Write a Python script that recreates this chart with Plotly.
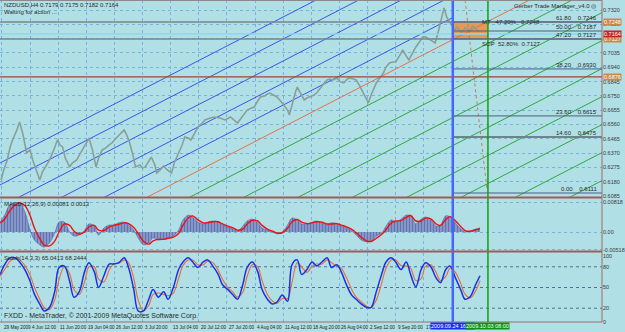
import plotly.graph_objects as go

# ------------------------------------------------------------------ data
tick_bars = [0, 32, 64, 96, 128, 160, 192, 224, 256, 288, 320, 352, 384, 416, 448, 480]
tick_labels = ["29 May 2009", "4 Jun 12:00", "11 Jun 20:00", "19 Jun 04:00", "26 Jun 12:00",
               "3 Jul 20:00", "13 Jul 04:00", "20 Jul 12:00", "27 Jul 20:00", "4 Aug 04:00",
               "11 Aug 12:00", "18 Aug 20:00", "26 Aug 04:00", "2 Sep 12:00", "9 Sep 20:00",
               "17 Sep 04:00"]

price_ticks = [0.6085, 0.6180, 0.6275, 0.6370, 0.6465, 0.6560, 0.6655, 0.6750,
               0.6845, 0.6940, 0.7035, 0.7130, 0.7225, 0.7320]

price_bar = [-1, 2, 6, 9, 12, 17, 20, 24, 28, 32, 35, 39, 43, 46, 51, 54, 59, 63, 66, 69, 72, 77,
             80, 85, 88, 91, 96, 99, 103, 107, 110, 114, 118, 122, 125, 130, 134, 139, 142, 145,
             149, 152, 157, 160, 163, 167, 170, 174, 176, 180, 184, 188, 193, 196, 201, 205, 208,
             212, 215, 220, 223, 228, 231, 237, 242, 248, 254, 260, 265, 268, 274, 279, 284, 287,
             291, 294, 299, 302, 305, 310, 313, 318, 321, 325, 327, 330, 334, 336, 339, 344, 347,
             350, 355, 358, 362, 366, 370, 373, 377, 381, 385, 389, 392, 395, 400, 403, 407, 411,
             415, 417, 420, 424, 426, 430, 434, 437, 441, 445, 448, 453, 456, 460, 463, 468, 471,
             475, 479, 482, 487, 490, 493, 497, 500, 503, 506, 508, 512, 515, 518, 523, 527, 532,
             536, 542]
price_close = [0.6191, 0.6258, 0.6324, 0.6404, 0.6457, 0.6524, 0.6577, 0.6490, 0.6371, 0.6391,
               0.6324, 0.6258, 0.6191, 0.6244, 0.6291, 0.6324, 0.6391, 0.6457, 0.6424, 0.6411,
               0.6338, 0.6278, 0.6304, 0.6324, 0.6357, 0.6391, 0.6437, 0.6470, 0.6391, 0.6278,
               0.6338, 0.6391, 0.6404, 0.6424, 0.6437, 0.6470, 0.6497, 0.6524, 0.6490, 0.6444,
               0.6357, 0.6278, 0.6291, 0.6271, 0.6278, 0.6311, 0.6344, 0.6291, 0.6238, 0.6258,
               0.6284, 0.6258, 0.6238, 0.6304, 0.6371, 0.6424, 0.6477, 0.6470, 0.6457, 0.6510,
               0.6543, 0.6570, 0.6590, 0.6603, 0.6610, 0.6603, 0.6590, 0.6610, 0.6583, 0.6570,
               0.6617, 0.6656, 0.6670, 0.6676, 0.6716, 0.6743, 0.6750, 0.6763, 0.6769, 0.6756,
               0.6743, 0.6710, 0.6683, 0.6656, 0.6623, 0.6696, 0.6776, 0.6809, 0.6776, 0.6723,
               0.6736, 0.6743, 0.6756, 0.6769, 0.6803, 0.6829, 0.6856, 0.6862, 0.6856, 0.6869,
               0.6843, 0.6836, 0.6856, 0.6869, 0.6862, 0.6856, 0.6816, 0.6769, 0.6723, 0.6703,
               0.6756, 0.6803, 0.6836, 0.6869, 0.6902, 0.6942, 0.6969, 0.6975, 0.6975, 0.7022,
               0.7055, 0.7015, 0.6989, 0.7042, 0.7075, 0.7108, 0.7142, 0.7142, 0.7122, 0.7108,
               0.7102, 0.7188, 0.7268, 0.7335, 0.7274, 0.7255, 0.7221, 0.7188, 0.7208, 0.7168,
               0.7201, 0.7188, 0.7215, 0.7179]

# channel lines: price at bar 0, common slope (price per bar)
channel_slope = 0.000301
blue_lines = [0.6311, 0.6165, 0.6019, 0.5872, 0.5726]
orange_line = 0.5580
green_lines = [0.5434, 0.5248, 0.5062, 0.4876, 0.4690, 0.4504, 0.4318, 0.4132, 0.3946]

# projection (dotted) line end points
proj_bar = [527, 552]
proj_price = [0.7387, 0.6125]

# full width horizontal levels
level_prices = [0.7241, 0.7128, 0.7161, 0.6876]
level_colors = ["#7d8488", "#7d8488", "#8fd6ee", "#a0462d"]
level_tags = ["0.7248", "0.7127", "0.7164", "0.6876"]
level_tag_colors = ["#c98a45", "#c98a45", "#c0281e", "#c98a45"]

# Trade manager levels
fib_names = ["61.80", "50.00", "47.20", "38.20", "23.60", "14.60", "0.00"]
fib_prices = [0.7241, 0.7181, 0.7128, 0.6929, 0.6617, 0.6477, 0.6105]
fib_values = ["0.7246", "0.7187", "0.7127", "0.6930", "0.6615", "0.6475", "0.6111"]

box_bars = [513, 553]
box_prices = [0.7128, 0.7241]
vline_blue_bar = 513
vline_green_bar = 553

# indicator sample bars
ind_bar = [-2, 3, 9, 15, 20, 26, 32, 37, 43, 48, 54, 60, 65, 71, 77, 82, 88, 94, 99, 105, 110,
           116, 122, 127, 133, 139, 144, 150, 155, 161, 167, 172, 178, 184, 189, 195, 201, 206,
           212, 217, 223, 229, 234, 240, 246, 251, 257, 263, 268, 274, 279, 285, 291, 296, 302,
           308, 313, 319, 325, 330, 336, 341, 347, 353, 358, 364, 370, 375, 381, 386, 392, 398,
           403, 409, 415, 420, 426, 432, 437, 443, 448, 454, 460, 465, 471, 477, 482, 488, 494,
           499, 505, 510, 516, 522, 527, 533, 539, 544]
macd_main = [27, 46, 74, 79, 79, 55, 5, -22, -35, -41, -30, -3, 27, 27, 0, -11, -8, 5, 22, 16,
             -8, 11, 19, 19, 25, 27, 19, 5, -16, -35, -30, -16, -22, -19, -16, -11, 5, 33, 46, 41,
             27, 22, 27, 30, 27, 19, 14, 8, 3, 16, 30, 35, 25, 11, 5, 0, -5, 0, 19, 38, 33, 22,
             22, 27, 30, 25, 19, 25, 22, 16, 11, 3, -8, -22, -27, -25, -11, -3, 16, 33, 27, 35,
             46, 44, 22, 35, 41, 33, 16, 19, 44, 41, 25, 8, 0, 3, 8, 11]
macd_signal = [25, 35, 58, 74, 79, 72, 45, 10, -18, -35, -38, -25, 0, 22, 18, 2, -6, 0, 14, 18,
               5, 4, 14, 18, 21, 25, 23, 12, -4, -25, -33, -24, -20, -20, -17, -14, -4, 18, 38,
               44, 33, 25, 25, 28, 28, 22, 16, 11, 5, 8, 22, 32, 30, 18, 8, 2, -3, -2, 10, 28, 34,
               27, 23, 25, 28, 27, 22, 22, 23, 19, 14, 7, -2, -15, -24, -26, -17, -7, 6, 25, 30,
               31, 40, 45, 30, 30, 38, 36, 22, 18, 34, 42, 31, 15, 4, 2, 6, 9]
stoch_k = [69, 83, 93, 93, 87, 76, 59, 40, 26, 16, 21, 44, 79, 81, 59, 36, 44, 73, 86, 73, 50,
           67, 84, 84, 86, 93, 79, 47, 16, 16, 33, 47, 36, 44, 33, 50, 76, 87, 93, 87, 79, 87, 90,
           81, 69, 54, 47, 39, 33, 54, 79, 87, 73, 47, 33, 26, 29, 39, 30, 83, 90, 69, 76, 87,
           81, 87, 93, 79, 83, 73, 54, 39, 33, 26, 21, 21, 44, 69, 87, 93, 87, 76, 87, 69, 51,
           76, 86, 80, 64, 57, 76, 81, 64, 47, 33, 37, 54, 67]
stoch_d = [66, 76, 88, 93, 90, 82, 68, 50, 33, 21, 18, 32, 62, 80, 70, 47, 40, 58, 80, 80, 62,
           58, 75, 84, 85, 90, 86, 63, 32, 16, 24, 40, 42, 40, 38, 42, 63, 82, 90, 90, 83, 83,
           88, 86, 75, 62, 50, 43, 36, 43, 66, 83, 80, 60, 40, 30, 27, 34, 34, 57, 86, 80, 72,
           81, 84, 84, 90, 86, 81, 78, 64, 47, 36, 29, 23, 21, 32, 56, 78, 90, 90, 82, 81, 78,
           60, 63, 81, 83, 72, 60, 66, 78, 72, 56, 40, 35, 45, 60]

# ------------------------------------------------------------------ style
BG = "#b0e0e6"
GRID = "#74b4dc"
FONT = "Liberation Sans"
PW, PH = 608.0, 322.0
X0, X1 = -2.25, 682.8


def yp(px):
    return 1 - px / PH


def xp(px):
    return px / PW


main_range = [0.60784, 0.7387]
fig = go.Figure()

# diagonal channel lines
for p0 in blue_lines:
    fig.add_trace(go.Scatter(x=[X0, vline_blue_bar], y=[p0 + channel_slope * X0, p0 + channel_slope * vline_blue_bar],
                             mode="lines", line=dict(color="#3a55e8", width=1), yaxis="y", hoverinfo="skip"))
fig.add_trace(go.Scatter(x=[X0, X1], y=[orange_line + channel_slope * X0, orange_line + channel_slope * X1],
                         mode="lines", line=dict(color="#e8704a", width=1), yaxis="y", hoverinfo="skip"))
for p0 in green_lines:
    fig.add_trace(go.Scatter(x=[X0, X1], y=[p0 + channel_slope * X0, p0 + channel_slope * X1],
                             mode="lines", line=dict(color="#2ea83e", width=1), yaxis="y", hoverinfo="skip"))

# price
fig.add_trace(go.Scatter(x=price_bar, y=price_close, mode="lines",
                         line=dict(color="#8a9f9a", width=1.6), yaxis="y", hoverinfo="skip"))

# projection dotted line
fig.add_trace(go.Scatter(x=proj_bar, y=proj_price, mode="lines",
                         line=dict(color="#c8785a", width=1, dash="dot"), yaxis="y", hoverinfo="skip"))

# MACD
fig.add_trace(go.Scatter(x=ind_bar, y=[v / 10000 for v in macd_main], mode="lines", fill="tozeroy",
                         line=dict(color="#4a66b0", width=0.6, shape="spline"),
                         fillcolor="#5b74b8",
                         fillpattern=dict(shape="|", fgcolor="#2f4c9c", bgcolor="#8e9cc8", size=3, solidity=0.45),
                         yaxis="y2", hoverinfo="skip"))
fig.add_trace(go.Scatter(x=ind_bar, y=[v / 10000 for v in macd_signal], mode="lines",
                         line=dict(color="#f01010", width=1.4, shape="spline"), yaxis="y2", hoverinfo="skip"))

# Stochastic
fig.add_trace(go.Scatter(x=ind_bar, y=stoch_d, mode="lines",
                         line=dict(color="#f06a30", width=1.1, shape="spline"), yaxis="y3", hoverinfo="skip"))
fig.add_trace(go.Scatter(x=ind_bar, y=stoch_k, mode="lines",
                         line=dict(color="#1433e6", width=1.5, shape="spline"), yaxis="y3", hoverinfo="skip"))

shapes = []
# trade box
shapes.append(dict(type="rect", xref="x", yref="y", x0=box_bars[0], x1=box_bars[1], y0=box_prices[0], y1=box_prices[1],
                   fillcolor="#e39a55", line=dict(width=0), layer="between"))
# full width levels
for p, c in zip(level_prices, level_colors):
    shapes.append(dict(type="line", xref="paper", yref="y", x0=0, x1=1, y0=p, y1=p,
                       line=dict(color=c, width=1.3), layer="above"))
# manager levels
for name, p in zip(fib_names, fib_prices):
    w = 2 if name == "14.60" else 1
    col = "#6d8586" if name == "14.60" else "#4b5f80"
    shapes.append(dict(type="line", xref="x", yref="y", x0=vline_blue_bar, x1=X1, y0=p, y1=p,
                       line=dict(color=col, width=w), layer="above"))
# vertical lines
shapes.append(dict(type="line", xref="x", yref="paper", x0=vline_blue_bar, x1=vline_blue_bar, y0=0, y1=1,
                   line=dict(color="#4466ff", width=2.5), layer="above"))
shapes.append(dict(type="line", xref="x", yref="paper", x0=vline_green_bar, x1=vline_green_bar, y0=0, y1=1,
                   line=dict(color="#12a012", width=1.5), layer="above"))
# panel separators and frame
for py_ in (197.5, 251.5):
    shapes.append(dict(type="line", xref="paper", yref="paper", x0=0, x1=1, y0=yp(py_), y1=yp(py_),
                       line=dict(color="#a05a5a", width=2), layer="above"))
shapes.append(dict(type="line", xref="paper", yref="paper", x0=1, x1=1, y0=0, y1=1,
                   line=dict(color="#a06a6a", width=1), layer="above"))
shapes.append(dict(type="line", xref="paper", yref="paper", x0=0, x1=1, y0=0, y1=0,
                   line=dict(color="#a06a6a", width=1), layer="above"))
shapes.append(dict(type="line", xref="paper", yref="paper", x0=0, x1=1, y0=yp(0.5), y1=yp(0.5),
                   line=dict(color="#8a8a8a", width=1), layer="above"))

ann = []
small = dict(family=FONT, size=6, color="#2a2a2a")
ann.append(dict(x=xp(2), y=yp(0), xref="paper", yref="paper", xanchor="left", yanchor="top",
                text="NZDUSD,H4 0.7179 0.7175 0.7182 0.7164", showarrow=False, font=small))
ann.append(dict(x=xp(2), y=yp(7), xref="paper", yref="paper", xanchor="left", yanchor="top",
                text="Waiting for action ...", showarrow=False, font=small))
ann.append(dict(x=xp(604), y=yp(1), xref="paper", yref="paper", xanchor="right", yanchor="top",
                text="Gerber Trade Manager_v4.0 ◎", showarrow=False, font=small))
ann.append(dict(x=xp(485), y=box_prices[1], xref="paper", yref="y", xanchor="left", yanchor="middle",
                text="MT   47.20%   0.7248", showarrow=False, font=small))
ann.append(dict(x=xp(485), y=box_prices[0], xref="paper", yref="y", xanchor="left", yanchor="top",
                text="SOP  52.80%  0.7127", showarrow=False, font=small))
for name, p, v in zip(fib_names, fib_prices, fib_values):
    ann.append(dict(x=xp(605), y=p, xref="paper", yref="y", xanchor="right", yanchor="bottom",
                    text=f"{name}&nbsp;&nbsp;&nbsp;&nbsp;{v}", showarrow=False, font=small, yshift=-1))
for p, t, c in zip(level_prices, level_tags, level_tag_colors):
    ann.append(dict(x=xp(609), y=p, xref="paper", yref="y", xanchor="left", yanchor="middle",
                    text=t, showarrow=False, font=dict(family=FONT, size=5.5, color="#ffffff"),
                    bgcolor=c, borderpad=0))
ann.append(dict(x=xp(2), y=yp(199), xref="paper", yref="paper", xanchor="left", yanchor="top",
                text="MACD(12,26,9) 0.00081 0.0013", showarrow=False, font=small))
ann.append(dict(x=xp(2), y=yp(253), xref="paper", yref="paper", xanchor="left", yanchor="top",
                text="Stoch(14,3,3) 65.0413 68.2444", showarrow=False, font=small))
ann.append(dict(x=xp(2), y=yp(322), xref="paper", yref="paper", xanchor="left", yanchor="bottom",
                text="FXDD - MetaTrader, © 2001-2009 MetaQuotes Software Corp.", showarrow=False,
                font=dict(family=FONT, size=7, color="#2a2a2a")))
for b, t in zip(tick_bars, tick_labels):
    ann.append(dict(x=b, y=yp(322.5), xref="x", yref="paper", xanchor="left", yanchor="top",
                    text=t, showarrow=False, font=dict(family=FONT, size=4.6, color="#202020")))
ann.append(dict(x=vline_blue_bar, y=yp(322), xref="x", yref="paper", xanchor="center", yanchor="top",
                text="2009.09.24 16:00", showarrow=False, font=dict(family=FONT, size=5.5, color="#ffffff"),
                bgcolor="#1a2ef0", borderpad=0))
ann.append(dict(x=vline_green_bar, y=yp(322), xref="x", yref="paper", xanchor="center", yanchor="top",
                text="2009.10.03 08:00", showarrow=False, font=dict(family=FONT, size=5.5, color="#ffffff"),
                bgcolor="#12901a", borderpad=0))

axis_font = dict(family=FONT, size=5.5, color="#3a3a3a")
fig.update_layout(
    width=625, height=332, margin=dict(l=0, r=17, t=0, b=10),
    paper_bgcolor=BG, plot_bgcolor=BG, showlegend=False,
    xaxis=dict(range=[X0, X1], tickvals=tick_bars, showticklabels=False, showgrid=True,
               gridcolor=GRID, griddash="dot", gridwidth=1, zeroline=False, anchor="y3", ticks=""),
    yaxis=dict(domain=[yp(197), 1], range=main_range, side="right", anchor="x",
               tickvals=price_ticks, ticktext=[f"{v:.4f}" for v in price_ticks], tickfont=axis_font,
               showgrid=True, gridcolor=GRID, griddash="dot", zeroline=False, ticks=""),
    yaxis2=dict(domain=[yp(251), yp(199)], range=[-0.00518, 0.0090], side="right", anchor="x",
                tickvals=[0.00818, 0, -0.0048], ticktext=["0.00818", "0.00", "-0.00518"], tickfont=axis_font,
                showgrid=True, gridcolor=GRID, griddash="dot", zeroline=False, ticks=""),
    yaxis3=dict(domain=[0, yp(253)], range=[0, 100], side="right", anchor="x",
                tickvals=[95, 80, 50, 20, 0], ticktext=["100", "80", "50", "20", "0"], tickfont=axis_font,
                showgrid=False, zeroline=False, ticks=""),
    shapes=shapes, annotations=ann,
)
# stochastic level lines (dotted) at 80 / 50 / 20
for lvl in (80, 50, 20):
    fig.add_shape(type="line", xref="paper", yref="y3", x0=0, x1=1, y0=lvl, y1=lvl,
                  line=dict(color="#4e6e9a", width=1, dash="dot"), layer="below")

fig.write_html("out.html")
